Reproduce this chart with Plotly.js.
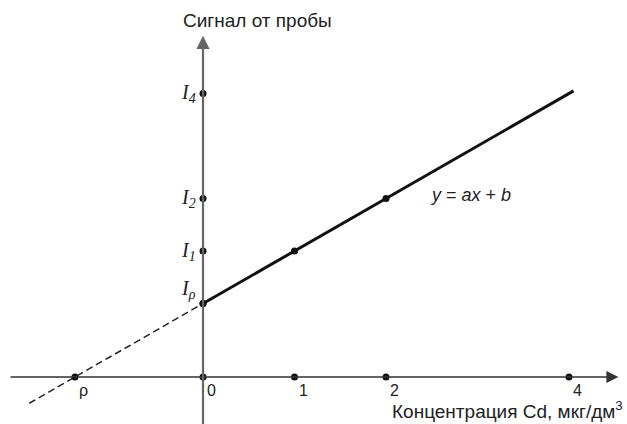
<!DOCTYPE html>
<html>
<head>
<meta charset="utf-8">
<script src="https://cdn.plot.ly/plotly-3.0.1.min.js"></script>
<style>
  html, body { margin: 0; padding: 0; background: #fff; }
  #chart { width: 627px; height: 424px; }
</style>
</head>
<body>
<div id="chart"></div>
<script>
// calibration line y = a*x + b (standard addition)
const slope = 1.0;
const intercept = 1.4;

// concentration marks on the x axis
const xTicks = [-1.4, 0, 1, 2, 4];
const xTickLabels = ['ρ', '0', '1', '2', '4'];

// signal marks on the y axis
const yTicks = [1.4, 2.4, 3.4, 5.4];
const yTickLabels = ['I<sub>ρ</sub>', 'I<sub>1</sub>', 'I<sub>2</sub>', 'I<sub>4</sub>'];

// measured points lying on the line
const pointX = [0, 1, 2];
const pointY = [1.4, 2.4, 3.4];

// extent of the solid and dashed parts of the line
const solidX = [0, 4.05];
const dashedX = [-1.9, 0];

const lineY = xs => xs.map(x => slope * x + intercept);

const sans = 'Liberation Sans, Arial, sans-serif';
const serif = 'Liberation Serif, Times New Roman, serif';

const traces = [
  {
    x: dashedX, y: lineY(dashedX),
    mode: 'lines',
    line: { color: '#222', width: 1.5, dash: '7px,4px' },
    hoverinfo: 'skip'
  },
  {
    x: solidX, y: lineY(solidX),
    mode: 'lines',
    line: { color: '#111', width: 3 },
    hoverinfo: 'skip'
  },
  {
    x: xTicks, y: xTicks.map(() => 0),
    mode: 'markers',
    marker: { color: '#111', size: 7 },
    hoverinfo: 'skip'
  },
  {
    x: yTicks.map(() => 0), y: yTicks,
    mode: 'markers',
    marker: { color: '#111', size: 7 },
    hoverinfo: 'skip'
  },
  {
    x: pointX, y: pointY,
    mode: 'markers',
    marker: { color: '#111', size: 7 },
    hoverinfo: 'skip'
  }
];

const annotations = [];

// axes drawn as arrows through the origin
annotations.push({
  x: 4.54, y: 0, ax: -2.12, ay: 0,
  xref: 'x', yref: 'y', axref: 'x', ayref: 'y',
  text: '', showarrow: true,
  arrowhead: 2, arrowsize: 1.5, arrowwidth: 1.6, arrowcolor: '#333'
});
annotations.push({
  x: 0, y: 6.5, ax: 0, ay: -0.95,
  xref: 'x', yref: 'y', axref: 'x', ayref: 'y',
  text: '', showarrow: true,
  arrowhead: 2, arrowsize: 1.2, arrowwidth: 2.2, arrowcolor: '#666'
});

xTicks.forEach((v, i) => {
  annotations.push({
    x: v, y: 0, xref: 'x', yref: 'y',
    text: xTickLabels[i], showarrow: false,
    xanchor: 'left', yanchor: 'top',
    xshift: 2, yshift: -3,
    font: { family: sans, size: 16, color: '#222' }
  });
});

yTicks.forEach((v, i) => {
  annotations.push({
    x: 0, y: v, xref: 'x', yref: 'y',
    text: '<i>' + yTickLabels[i] + '</i>', showarrow: false,
    xanchor: 'right', yanchor: 'middle',
    xshift: -5, yshift: i === 0 ? 14 : 0,
    font: { family: serif, size: 20, color: '#222' }
  });
});

annotations.push({
  x: 2.46, y: 3.47, xref: 'x', yref: 'y',
  text: '<i>y</i> = <i>ax</i> + <i>b</i>', showarrow: false,
  xanchor: 'left', yanchor: 'middle',
  font: { family: sans, size: 18, color: '#222' }
});

annotations.push({
  x: -0.24, y: 6.8, xref: 'x', yref: 'y',
  text: 'Сигнал от пробы', showarrow: false,
  xanchor: 'left', yanchor: 'middle',
  font: { family: sans, size: 19, color: '#222' }
});

annotations.push({
  x: 1, xref: 'paper', y: -0.63, yref: 'y',
  text: 'Концентрация Cd, мкг/дм<sup>3</sup>', showarrow: false,
  xanchor: 'right', yanchor: 'middle', xshift: -2,
  font: { family: sans, size: 19, color: '#222' }
});

const layout = {
  width: 627,
  height: 424,
  margin: { l: 0, r: 0, t: 0, b: 0 },
  paper_bgcolor: '#fff',
  plot_bgcolor: '#fff',
  showlegend: false,
  xaxis: { range: [-2.219, 4.634], visible: false, fixedrange: true },
  yaxis: { range: [-0.895, 7.181], visible: false, fixedrange: true },
  annotations: annotations
};

Plotly.newPlot('chart', traces, layout, { staticPlot: true });
</script>
</body>
</html>
